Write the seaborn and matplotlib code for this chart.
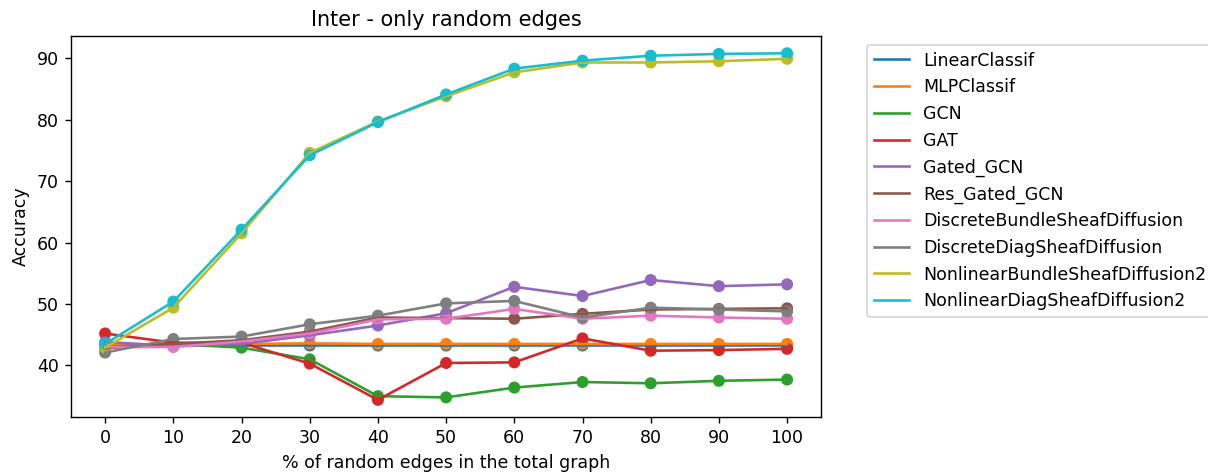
import matplotlib
matplotlib.use("Agg")
import matplotlib.pyplot as plt
import seaborn as sns

# % of random edges
x_vals = [0, 10, 20, 30, 40, 50, 60, 70, 80, 90, 100]

models = [
    "LinearClassif",
    "MLPClassif",
    "GCN",
    "GAT",
    "Gated_GCN",
    "Res_Gated_GCN",
    "DiscreteBundleSheafDiffusion",
    "DiscreteDiagSheafDiffusion",
    "NonlinearBundleSheafDiffusion2",
    "NonlinearDiagSheafDiffusion2",
]

linear_classif = [43.2, 43.25, 43.25, 43.25, 43.25, 43.25, 43.25, 43.25, 43.25, 43.25, 43.25]
mlp_classif = [43.3, 43.5, 43.5, 43.6, 43.5, 43.5, 43.5, 43.5, 43.5, 43.5, 43.5]
gcn = [43.0, 43.5, 42.9, 41.0, 35.0, 34.8, 36.4, 37.3, 37.1, 37.5, 37.7]
gat = [45.2, 43.7, 43.7, 40.3, 34.4, 40.4, 40.5, 44.4, 42.4, 42.5, 42.7]
gated_gcn = [43.8, 43.2, 43.5, 44.9, 46.5, 48.5, 52.8, 51.3, 53.9, 52.9, 53.2]
res_gated_gcn = [42.8, 43.5, 44.1, 45.5, 47.8, 47.7, 47.6, 48.4, 49.1, 49.2, 49.3]
disc_bundle = [43.0, 43.0, 43.9, 45.2, 47.5, 47.6, 49.2, 47.6, 48.1, 47.8, 47.6]
disc_diag = [42.1, 44.3, 44.7, 46.7, 48.1, 50.1, 50.5, 47.8, 49.4, 49.1, 48.8]
nonlin_bundle = [42.9, 49.4, 61.5, 74.6, 79.7, 83.8, 87.7, 89.3, 89.3, 89.5, 89.9]
nonlin_diag = [43.5, 50.4, 62.1, 74.2, 79.6, 84.1, 88.3, 89.6, 90.4, 90.7, 90.8]

series = [linear_classif, mlp_classif, gcn, gat, gated_gcn, res_gated_gcn,
          disc_bundle, disc_diag, nonlin_bundle, nonlin_diag]

colors = sns.color_palette("tab10", len(models))

fig = plt.figure(figsize=(1208 / 125, 473 / 125), dpi=125)
ax = fig.add_axes([0.0588, 0.118, 0.621, 0.806])

for name, vals, c in zip(models, series, colors):
    sns.lineplot(x=x_vals, y=vals, ax=ax, color=c, label=name, linewidth=1.5)
    sns.scatterplot(x=x_vals, y=vals, ax=ax, color=c, s=48, edgecolor="none", legend=False)

ax.set_xticks(x_vals)
ax.set_title("Inter - only random edges")
ax.set_xlabel("% of random edges in the total graph")
ax.set_ylabel("Accuracy")
ax.legend(loc="upper left", bbox_to_anchor=(1.05, 1.0))

fig.savefig("out.png", dpi=125)
